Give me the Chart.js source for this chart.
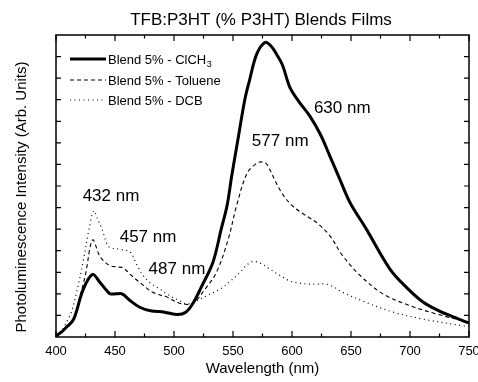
<!DOCTYPE html>
<html lang="en">
<head>
    <meta charset="UTF-8">
    <title>TFB:P3HT Blends Films</title>
    <script src="https://cdn.jsdelivr.net/npm/chart.js"></script>
    <style>
        html, body { margin: 0; padding: 0; background: #fff; }
        .chart-container { width: 478px; height: 382px; }
    </style>
</head>
<body>
    <div class="chart-container">
        <canvas id="plChart" width="478" height="382"></canvas>
    </div>

    <script>
        // Blend 5% - ClCH3 (solid)
        const clch3Wl  = [400, 405, 409, 415, 423, 431, 437, 443, 446, 451, 456, 463, 471, 480, 492, 503, 510, 516, 523, 533, 540, 545, 549, 554, 560, 564, 570, 577, 582, 587, 592, 598, 606, 615, 624, 632, 641, 649, 663, 683, 697, 711, 725, 734, 748, 750];
        const clch3Int = [0.05, 0.25, 0.46, 0.83, 2.2, 2.9, 2.55, 2.15, 2.0, 2.0, 2.0, 1.68, 1.38, 1.22, 1.15, 1.04, 1.15, 1.55, 2.3, 3.47, 5.0, 6.1, 7.5, 9.1, 11.0, 11.9, 13.1, 13.65, 13.5, 13.1, 12.6, 11.6, 10.9, 10.25, 9.4, 8.4, 7.25, 6.25, 5.0, 3.15, 2.3, 1.62, 1.2, 0.99, 0.69, 0.65];

        // Blend 5% - Toluene (dashed)
        const tolWl  = [400, 410, 416, 420, 425, 431, 437, 442, 446, 452, 457, 464, 471, 482, 494, 502, 508, 516, 526, 536, 546, 553, 562, 570, 574, 578, 581, 587, 593, 600, 607, 614, 621, 632, 643, 658, 677, 700, 723, 745, 750];
        const tolInt = [0.05, 0.5, 1.0, 1.8, 2.9, 4.5, 3.76, 3.45, 3.3, 3.25, 3.2, 2.85, 2.53, 2.07, 1.85, 1.62, 1.53, 1.55, 2.2, 3.0, 4.54, 6.08, 7.6, 8.05, 8.12, 8.05, 7.78, 7.1, 6.54, 6.1, 5.8, 5.55, 5.3, 4.7, 3.76, 2.84, 2.0, 1.45, 1.06, 0.75, 0.7];

        // Blend 5% - DCB (dotted)
        const dcbWl  = [400, 405, 409, 413, 418, 423, 428, 432, 435, 439, 444, 449, 454, 463, 468, 474, 480, 488, 497, 505, 511, 519, 529, 539, 548, 556, 562, 567, 574, 581, 590, 598, 606, 615, 622, 629, 636, 643, 663, 686, 711, 745, 750];
        const dcbInt = [0.1, 0.3, 0.7, 1.15, 2.2, 3.5, 5.0, 5.85, 5.5, 5.0, 4.23, 4.1, 4.07, 3.93, 3.4, 2.84, 2.5, 2.22, 1.9, 1.68, 1.53, 1.68, 1.95, 2.22, 2.6, 3.0, 3.35, 3.5, 3.4, 3.15, 2.85, 2.6, 2.5, 2.45, 2.45, 2.45, 2.3, 2.07, 1.6, 1.15, 0.83, 0.52, 0.5];

        const seriesNames = ['Blend 5% - ClCH', 'Blend 5% - Toluene', 'Blend 5% - DCB'];
        const xTicks = [400, 450, 500, 550, 600, 650, 700, 750];

        // peak labels: text, wavelength, intensity where the text sits
        const peakLabels = ['432 nm', '457 nm', '487 nm', '577 nm', '630 nm'];
        const peakLabelWl = [446.6, 478, 502.5, 590, 642.6];
        const peakLabelInt = [6.53, 4.63, 3.15, 9.07, 10.6];

        const FONT = '"Liberation Sans", Arial, sans-serif';

        function toPoints(xs, ys) {
            return xs.map((x, i) => ({ x: x, y: ys[i] }));
        }

        // frame, inward ticks, titles, legend and peak labels
        const decorations = {
            id: 'decorations',
            afterDraw(chart) {
                const ctx = chart.ctx;
                const a = chart.chartArea;
                const xs = chart.scales.x;
                const ys = chart.scales.y;
                ctx.save();

                ctx.strokeStyle = '#000';
                ctx.lineWidth = 1.5;
                ctx.strokeRect(a.left, a.top, a.right - a.left, a.bottom - a.top);

                // x ticks, top and bottom, every 25 nm
                ctx.lineWidth = 1.2;
                for (let v = 400; v <= 750; v += 25) {
                    const px = xs.getPixelForValue(v);
                    const len = v % 50 === 0 ? 6 : 3.5;
                    ctx.beginPath();
                    ctx.moveTo(px, a.bottom); ctx.lineTo(px, a.bottom - len);
                    ctx.moveTo(px, a.top); ctx.lineTo(px, a.top + len);
                    ctx.stroke();
                }
                // y ticks, left and right
                for (let v = 1; v < 14; v++) {
                    const py = ys.getPixelForValue(v);
                    ctx.beginPath();
                    ctx.moveTo(a.left, py); ctx.lineTo(a.left + 5, py);
                    ctx.moveTo(a.right, py); ctx.lineTo(a.right - 5, py);
                    ctx.stroke();
                }

                // title
                ctx.fillStyle = '#000';
                ctx.font = '17px ' + FONT;
                ctx.textAlign = 'center';
                ctx.textBaseline = 'middle';
                ctx.fillText('TFB:P3HT (% P3HT) Blends Films', 261, 20);

                // y axis title (sits a little below the plot centre)
                ctx.save();
                ctx.translate(22, 197);
                ctx.rotate(-Math.PI / 2);
                ctx.font = '15px ' + FONT;
                ctx.fillText('Photoluminescence Intensity (Arb. Units)', 0, 0);
                ctx.restore();

                // legend
                const rowsY = [59, 80, 100];
                chart.data.datasets.forEach((ds, i) => {
                    const y = rowsY[i];
                    ctx.strokeStyle = '#000';
                    ctx.lineWidth = ds.borderWidth;
                    ctx.setLineDash(ds.borderDash || []);
                    ctx.beginPath();
                    ctx.moveTo(70, y); ctx.lineTo(106, y);
                    ctx.stroke();
                    ctx.setLineDash([]);
                    ctx.font = '13px ' + FONT;
                    ctx.textAlign = 'left';
                    ctx.fillText(seriesNames[i], 108, y + 1);
                    if (i === 0) {
                        const w = ctx.measureText(seriesNames[i]).width;
                        ctx.font = '9px ' + FONT;
                        ctx.fillText('3', 108 + w + 0.5, y + 6);
                    }
                });

                // peak labels
                ctx.font = '17px ' + FONT;
                ctx.textAlign = 'center';
                peakLabels.forEach((t, i) => {
                    ctx.fillText(t, xs.getPixelForValue(peakLabelWl[i]), ys.getPixelForValue(peakLabelInt[i]));
                });

                ctx.restore();
            }
        };

        const ctx = document.getElementById('plChart').getContext('2d');
        new Chart(ctx, {
            type: 'line',
            data: {
                datasets: [
                    { data: toPoints(clch3Wl, clch3Int), borderColor: '#000', borderWidth: 3, tension: 0.35 },
                    { data: toPoints(tolWl, tolInt), borderColor: '#000', borderWidth: 1.1, borderDash: [4, 3], tension: 0.35 },
                    { data: toPoints(dcbWl, dcbInt), borderColor: '#000', borderWidth: 1.2, borderDash: [1, 3.5], tension: 0.35 }
                ]
            },
            options: {
                responsive: false,
                animation: false,
                events: [],
                elements: { point: { radius: 0 } },
                layout: { padding: { top: 35, right: 9, left: 0, bottom: 0 } },
                plugins: {
                    legend: { display: false },
                    tooltip: { enabled: false }
                },
                scales: {
                    x: {
                        type: 'linear',
                        min: 400,
                        max: 750,
                        afterBuildTicks: (s) => { s.ticks = xTicks.map(v => ({ value: v })); },
                        afterFit: (s) => { s.height = 45; s.paddingLeft = 0; s.paddingRight = 0; },
                        grid: { display: false, drawTicks: false },
                        border: { display: false },
                        ticks: { color: '#000', padding: 7, font: { family: FONT, size: 13 }, maxRotation: 0 },
                        title: { display: true, text: 'Wavelength (nm)', color: '#000', font: { family: FONT, size: 15 }, padding: { top: 5 } }
                    },
                    y: {
                        min: 0,
                        max: 14,
                        afterFit: (s) => { s.width = 56; },
                        grid: { display: false, drawTicks: false },
                        border: { display: false },
                        ticks: { display: false }
                    }
                }
            },
            plugins: [decorations]
        });
    </script>
</body>
</html>
